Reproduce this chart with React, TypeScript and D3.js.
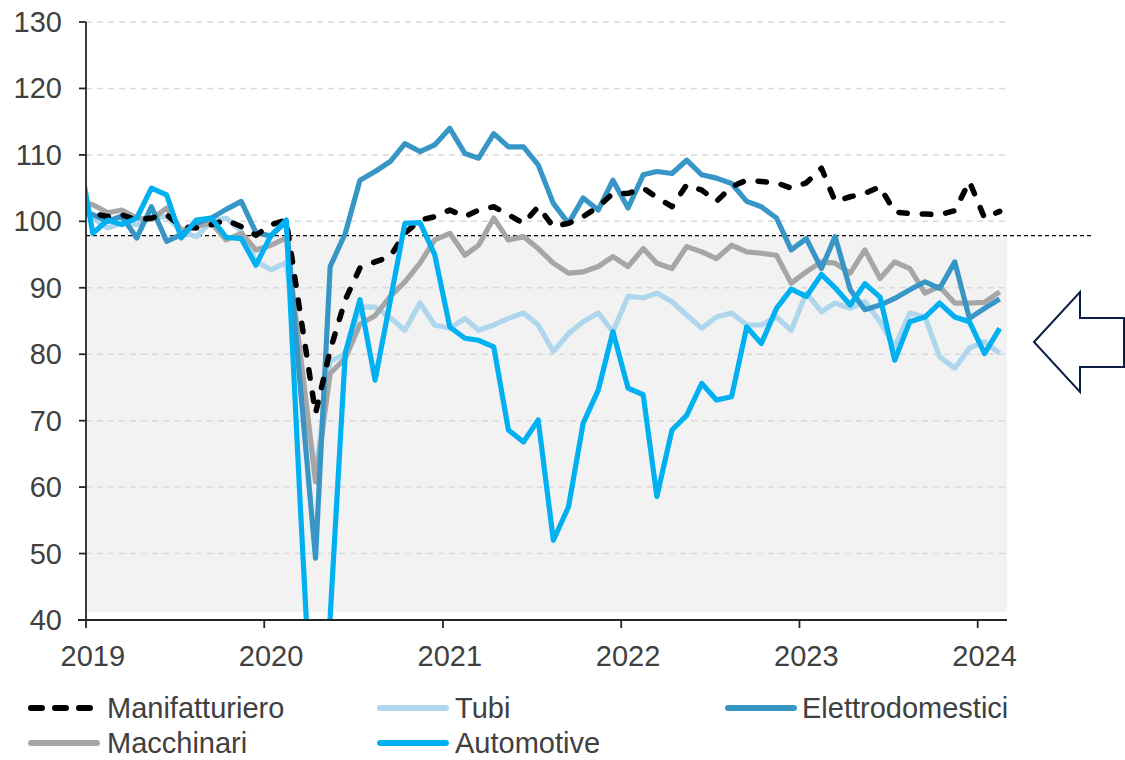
import React from 'react';
import * as d3 from 'd3';

// Monthly observations, Dec 2018 .. Feb 2024 (the Dec 2018 point is clipped by the plot area)
const months: Date[] = d3
  .timeMonth.range(new Date(2018, 11, 1), new Date(2024, 2, 1))
  .map((d) => new Date(d.getFullYear(), d.getMonth(), 15));

const manifatturiero = [
  102,
  101.2, 100.7, 101, 100.2, 100.5, 101, 99.2, 99, 99.5, 100.2, 99.2, 97.9,
  99.5, 100.2, 86, 71.1, 80.6, 88.2, 93, 93.9, 94.7, 98.2, 100.2, 100.7,
  101.7, 100.7, 101.7, 102.2, 101, 99.7, 102.2, 99.2, 99.7, 100.7, 102.2, 104.2,
  104.2, 105, 103.6, 102.2, 105.5, 104.7, 103, 105.2, 106.2, 106, 105.8, 105,
  105.8, 108, 103, 103.7, 104.2, 105.2, 101.4, 101.2, 101.1, 101, 101.6, 106,
  100.5, 101.5,
];

const tubi = [
  102,
  100.5, 99, 99.8, 99.5, 100.5, 100.7, 98.5, 97.7, 100, 100.5, 98.5, 94,
  92.7, 93.8, 78, 62, 78.9, 80.1, 87.1, 87.1, 85.5, 83.6, 87.7, 84.4,
  83.9, 85.4, 83.6, 84.4, 85.4, 86.2, 84.4, 80.4, 83.1, 84.9, 86.2, 83.4,
  88.7, 88.5, 89.2, 87.9, 85.9, 83.9, 85.6, 86.2, 84.4, 84.4, 85.6, 83.6,
  89.2, 86.4, 87.7, 86.9, 87.9, 84.9, 81.1, 86.2, 85.6, 79.6, 77.9, 80.9,
  81.9, 80.1,
];

const elettrodomestici = [
  102,
  101, 100, 100.8, 97.5, 102.2, 97, 98, 99.7, 100.5, 101.8, 103, 98.3,
  97.8, 100, 75, 49.3, 93.2, 98.2, 106.2, 107.5, 109, 111.7, 110.5, 111.5,
  114, 110.2, 109.5, 113.2, 111.2, 111.2, 108.5, 102.7, 99.7, 103.5, 101.7, 106.2,
  102, 107, 107.5, 107.2, 109.2, 107, 106.5, 105.7, 103, 102.2, 100.5, 95.7,
  97.4, 92.9, 97.7, 89.7, 86.7, 87.4, 88.4, 89.7, 90.9, 89.9, 93.9, 85.4,
  86.9, 88.3,
];

const macchinari = [
  103,
  102.5, 101.3, 101.7, 100.5, 100.3, 102, 98.7, 99.3, 99.7, 97.2, 98.2, 95.7,
  96.4, 97.5, 80, 60.8, 77.1, 79.4, 84.5, 85.8, 88.7, 90.9, 93.7, 97.2,
  98.2, 94.9, 96.4, 100.5, 97.2, 97.7, 95.9, 93.7, 92.2, 92.4, 93.2, 94.7,
  93.2, 95.9, 93.7, 92.9, 96.2, 95.4, 94.4, 96.4, 95.4, 95.2, 94.9, 90.7,
  92.4, 93.9, 93.7, 92.2, 95.7, 91.4, 93.9, 92.9, 89.2, 90.2, 87.7, 87.7,
  87.8, 89.4,
];

const automotive = [
  111,
  98.2, 100.2, 99.5, 100.5, 105, 104, 97.5, 100.2, 100.5, 97.6, 97.4, 93.4,
  97.9, 100.2, 57, 14, 40.5, 80.2, 88.2, 76.1, 88, 99.7, 99.8, 95,
  84.1, 82.4, 82.1, 81.1, 68.6, 66.8, 70.1, 52, 57, 69.6, 74.6, 83.4,
  74.9, 73.9, 58.6, 68.6, 70.8, 75.6, 73.1, 73.6, 84.1, 81.6, 86.9, 89.8,
  88.7, 92, 90, 87.4, 90.6, 88.6, 79.1, 84.9, 85.6, 87.7, 85.6, 84.9,
  80.1, 83.9,
];

const yTicks = [40, 50, 60, 70, 80, 90, 100, 110, 120, 130];
const yearTicks = [2019, 2020, 2021, 2022, 2023, 2024];
const referenceLevel = 97.85;
const shadeFloor = 41.2;

const seriesNames = ['Manifatturiero', 'Tubi', 'Elettrodomestici', 'Macchinari', 'Automotive'];
const seriesColors = ['#000000', '#aed6ec', '#3896c6', '#a6a6a6', '#00b0f0'];

const W = 1125;
const H = 760;
const M = { left: 86, right: 1007, top: 22, bottom: 620 };
const FONT = '"Liberation Sans", Arial, sans-serif';
const TEXT = '#404040';
const FS = 29;

export default function App() {
  const x = d3
    .scaleTime()
    .domain([new Date(2019, 0, 1), new Date(2024, 2, 1)])
    .range([M.left, M.right]);
  const y = d3.scaleLinear().domain([40, 130]).range([M.bottom, M.top]);

  const values = [manifatturiero, tubi, elettrodomestici, macchinari, automotive];
  const line = d3
    .line<number>()
    .x((_, i) => x(months[i]))
    .y((v) => y(v));

  // drawing order (bottom to top)
  const drawOrder = [1, 3, 2, 0, 4];

  const legendItems = [
    { idx: 0, lx: 31, ly: 708, tx: 107 },
    { idx: 1, lx: 380, ly: 708, tx: 455 },
    { idx: 2, lx: 728, ly: 708, tx: 802 },
    { idx: 3, lx: 31, ly: 743, tx: 107 },
    { idx: 4, lx: 380, ly: 743, tx: 455 },
  ];

  return (
    <svg
      width={W}
      height={H}
      style={{ position: 'absolute', left: 0, top: 0, background: '#fff' }}
      fontFamily={FONT}
    >
      <defs>
        <clipPath id="plot">
          <rect x={M.left} y={0} width={M.right - M.left} height={M.bottom} />
        </clipPath>
      </defs>

      {/* shaded band below reference */}
      <rect
        x={M.left}
        y={y(referenceLevel)}
        width={M.right - M.left}
        height={y(shadeFloor) - y(referenceLevel)}
        fill="#f2f2f2"
      />

      {/* gridlines */}
      {yTicks
        .filter((t) => t > 40)
        .map((t) => (
          <line
            key={t}
            x1={M.left}
            x2={M.right}
            y1={y(t)}
            y2={y(t)}
            stroke="#d9d9d9"
            strokeWidth={1.5}
            strokeDasharray="6 5"
          />
        ))}

      {/* reference dashed line */}
      <line
        x1={M.left}
        x2={1092}
        y1={y(referenceLevel)}
        y2={y(referenceLevel)}
        stroke="#000"
        strokeWidth={1.3}
        strokeDasharray="4 3"
      />

      {/* series */}
      <g clipPath="url(#plot)">
        {drawOrder.map((k) => (
          <path
            key={seriesNames[k]}
            d={line(values[k]) || ''}
            fill="none"
            stroke={seriesColors[k]}
            strokeWidth={k === 0 ? 5.5 : 5.2}
            strokeLinejoin="round"
            strokeLinecap={k === 0 ? 'round' : 'butt'}
            strokeDasharray={k === 0 ? '8.5 15' : undefined}
          />
        ))}
      </g>

      {/* axes */}
      <line x1={M.left} x2={M.left} y1={M.top} y2={M.bottom} stroke="#262626" strokeWidth={1.8} />
      <line x1={78} x2={M.right} y1={M.bottom} y2={M.bottom} stroke="#262626" strokeWidth={1.8} />
      {yTicks.map((t) => (
        <g key={t}>
          <line x1={79} x2={M.left} y1={y(t)} y2={y(t)} stroke="#262626" strokeWidth={1.8} />
          <text
            x={62}
            y={y(t)}
            textAnchor="end"
            dominantBaseline="central"
            fontSize={FS}
            fill={TEXT}
          >
            {t}
          </text>
        </g>
      ))}
      {yearTicks.map((yr) => (
        <g key={yr}>
          <line
            x1={x(new Date(yr, 0, 1))}
            x2={x(new Date(yr, 0, 1))}
            y1={M.bottom}
            y2={M.bottom + 8}
            stroke="#262626"
            strokeWidth={1.8}
          />
          <text x={x(new Date(yr, 0, 15))} y={666} textAnchor="middle" fontSize={FS} fill={TEXT}>
            {yr}
          </text>
        </g>
      ))}

      {/* legend */}
      {legendItems.map((it) => (
        <g key={it.idx}>
          <line
            x1={it.lx}
            x2={it.idx === 0 ? it.lx + 60 : it.lx + 66}
            y1={it.ly}
            y2={it.ly}
            stroke={seriesColors[it.idx]}
            strokeWidth={6}
            strokeLinecap="round"
            strokeDasharray={it.idx === 0 ? '11 13' : undefined}
          />
          <text x={it.tx} y={it.ly} dominantBaseline="central" fontSize={FS} fill={TEXT}>
            {seriesNames[it.idx]}
          </text>
        </g>
      ))}

      {/* arrow */}
      <path
        d="M1034,342 L1080,292 L1080,318 L1124,318 L1124,367 L1080,367 L1080,392 Z"
        fill="#fff"
        stroke="#0c1e45"
        strokeWidth={2}
        strokeLinejoin="miter"
      />
    </svg>
  );
}
